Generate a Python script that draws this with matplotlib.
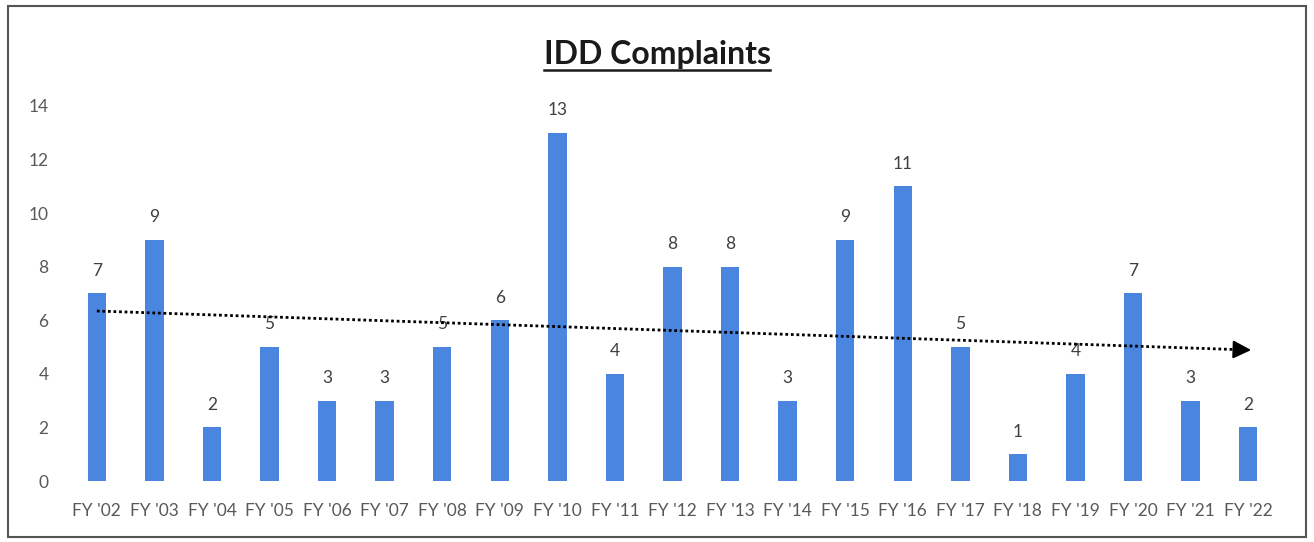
import matplotlib.pyplot as plt
import numpy as np
from matplotlib.lines import Line2D
from matplotlib.patches import Rectangle

years = ["FY '02", "FY '03", "FY '04", "FY '05", "FY '06", "FY '07", "FY '08",
         "FY '09", "FY '10", "FY '11", "FY '12", "FY '13", "FY '14", "FY '15",
         "FY '16", "FY '17", "FY '18", "FY '19", "FY '20", "FY '21", "FY '22"]
complaints = [7, 9, 2, 5, 3, 3, 5, 6, 13, 4, 8, 8, 3, 9, 11, 5, 1, 4, 7, 3, 2]
y_ticks = [0, 2, 4, 6, 8, 10, 12, 14]

plt.rcParams['font.family'] = ['Lato', 'DejaVu Sans']

fig = plt.figure(figsize=(13.14, 5.42), dpi=100)
ax = fig.add_axes([0.0518, 0.1125, 0.92, 0.692])

x = np.arange(len(years))
ax.bar(x, complaints, width=0.32, color='#4a86e0', zorder=2)

for xi, v in zip(x, complaints):
    ax.text(xi, v + 0.55, str(v), ha='center', va='bottom', fontsize=12.5, color='#404040')

# linear trend line with arrow head
slope, intercept = np.polyfit(x, complaints, 1)
trend = slope * x + intercept
ax.plot(x[:-1].tolist() + [x[-1] - 0.15], trend[:-1].tolist() + [slope * (x[-1] - 0.15) + intercept],
        color='black', linestyle=(0, (1, 1)), linewidth=2, zorder=3)
ax.annotate('', xy=(x[-1] + 0.1, slope * (x[-1] + 0.1) + intercept),
            xytext=(x[-1] - 0.3, slope * (x[-1] - 0.3) + intercept),
            arrowprops=dict(arrowstyle='-|>,head_length=1.1,head_width=0.55',
                            color='black', lw=1.5), zorder=4)

ax.set_xlim(-0.5, len(years) - 0.5)
ax.set_ylim(0, 14)
ax.set_yticks(y_ticks)
ax.set_xticks(x)
ax.set_xticklabels(years)
ax.tick_params(axis='both', length=0, labelsize=12.5, labelcolor='#595959')
ax.tick_params(axis='x', pad=16)
ax.tick_params(axis='y', pad=14)
for s in ax.spines.values():
    s.set_visible(False)

# title with underline
t = fig.text(0.5, 0.9, 'IDD Complaints', ha='center', va='center',
             fontsize=23, fontweight='bold', color='#1a1a1a')
fig.canvas.draw()
bb = t.get_window_extent().transformed(fig.transFigure.inverted())
fig.add_artist(Line2D([bb.x0, bb.x1], [bb.y0 - 0.002, bb.y0 - 0.002],
                      transform=fig.transFigure, color='#1a1a1a', linewidth=1.8))

# outer border
fig.add_artist(Rectangle((0.006, 0.009), 0.988, 0.98, transform=fig.transFigure,
                         fill=False, edgecolor='#555555', linewidth=1.5))

fig.savefig('out.png', dpi=100)
